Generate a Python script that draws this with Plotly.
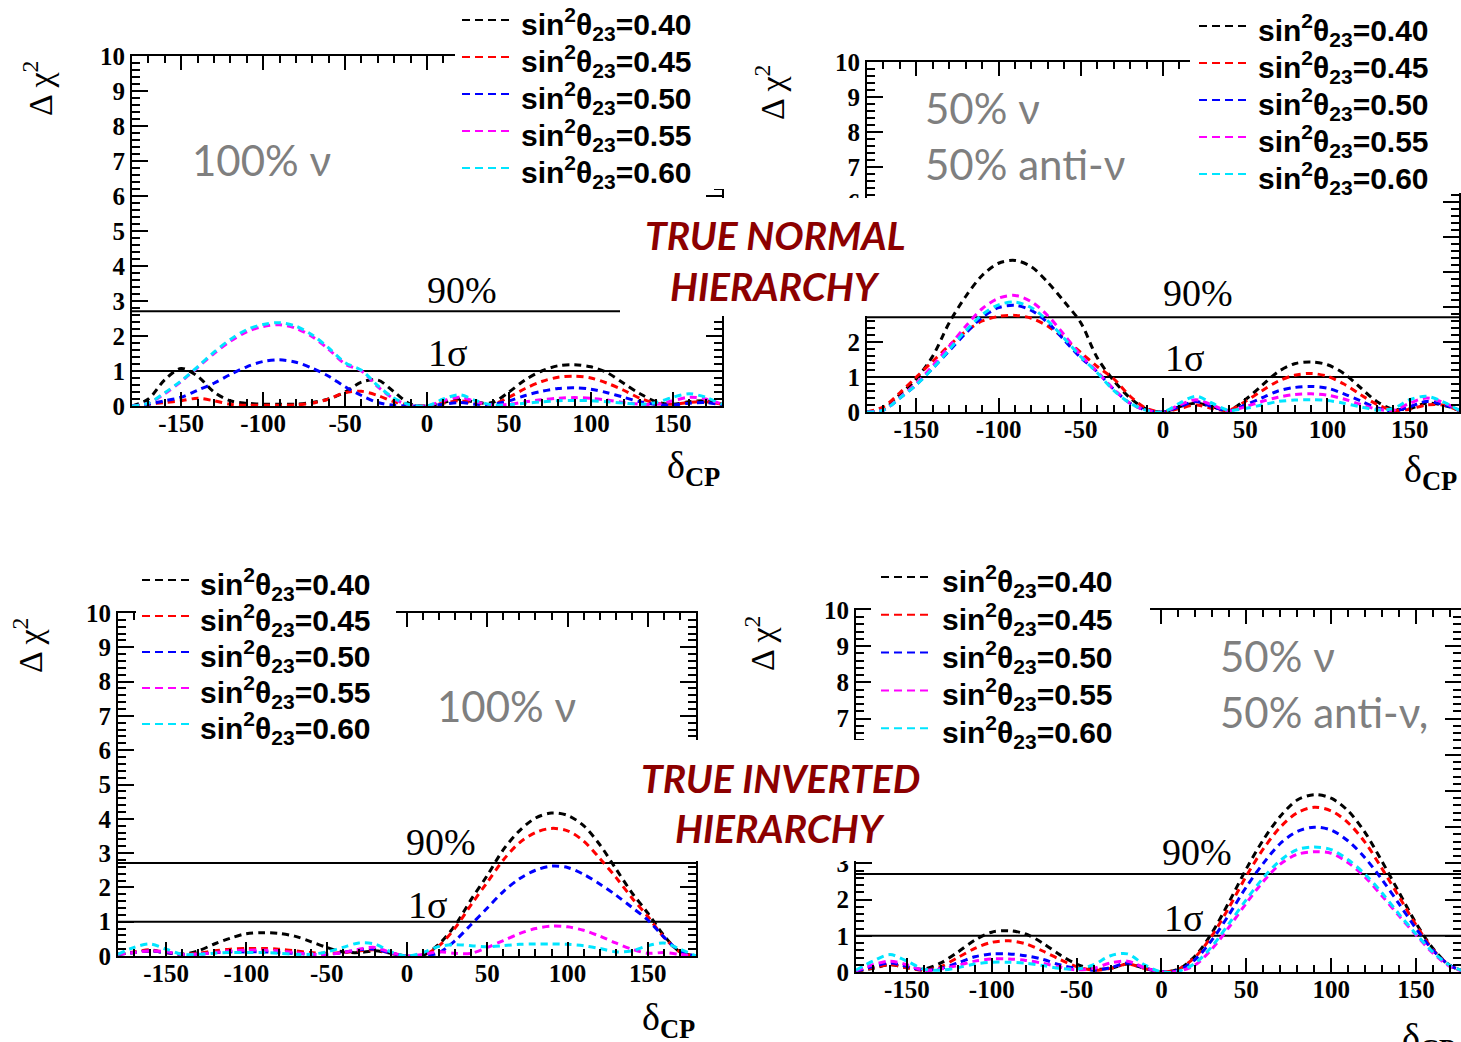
import plotly.graph_objects as go

W, H = 1461, 1042

# ---------------------------------------------------------------- data
delta_cp = [-180, -170, -160, -150, -140, -130, -120, -110, -100, -90, -80, -70,
            -60, -50, -40, -30, -20, -10, 0, 10, 20, 30, 40, 50, 60, 70, 80, 90,
            100, 110, 120, 130, 140, 150, 160, 170, 180]

theta_labels = ["0.40", "0.45", "0.50", "0.55", "0.60"]
curve_colors = ["#000000", "#ff0000", "#0000ff", "#ff00ff", "#00e5ff"]

x_tick_vals = [-150, -100, -50, 0, 50, 100, 150]
x_tick_text = ["-150", "-100", "-50", "0", "50", "100", "150"]
y_tick_vals = [0, 1, 2, 3, 4, 5, 6, 7, 8, 9, 10]
y_tick_text = ["0", "1", "2", "3", "4", "5", "6", "7", "8", "9", "10"]

cl_levels = [2.71, 1.0]
cl_names = ["90%", "1σ"]

# true normal hierarchy, 100% neutrino running
nh_nu_040 = [0.0, 0.2, 0.75, 1.07, 0.85, 0.4, 0.15, 0.08, 0.05, 0.05, 0.05, 0.1,
             0.2, 0.4, 0.68, 0.74, 0.4, 0.05, 0.0, 0.1, 0.2, 0.1, 0.1, 0.4, 0.75, 1.0, 1.15, 1.18,
             1.12, 0.95, 0.65, 0.35, 0.12, 0.05, 0.12, 0.15, 0.05]
nh_nu_045 = [0.0, 0.05, 0.1, 0.15, 0.22, 0.15, 0.05, 0.02, 0.02, 0.02, 0.03, 0.08,
             0.2, 0.38, 0.42, 0.3, 0.12, 0.02, 0.0, 0.08, 0.15, 0.08, 0.05, 0.25, 0.5, 0.7, 0.82, 0.85,
             0.8, 0.65, 0.45, 0.22, 0.08, 0.05, 0.1, 0.12, 0.05]
nh_nu_050 = [0.0, 0.05, 0.15, 0.25, 0.45, 0.65, 0.9, 1.12, 1.27, 1.32, 1.25, 1.08,
             0.85, 0.55, 0.3, 0.1, 0.02, 0.0, 0.0, 0.05, 0.1, 0.05, 0.05, 0.15, 0.3, 0.42, 0.5, 0.52,
             0.48, 0.38, 0.25, 0.12, 0.04, 0.03, 0.08, 0.1, 0.03]
nh_nu_055 = [0.0, 0.08, 0.35, 0.7, 1.1, 1.5, 1.85, 2.12, 2.27, 2.32, 2.22, 1.98,
             1.62, 1.2, 1.0, 0.55, 0.2, 0.02, 0.0, 0.15, 0.25, 0.12, 0.02, 0.05, 0.12, 0.18, 0.22, 0.24,
             0.22, 0.17, 0.1, 0.05, 0.05, 0.15, 0.25, 0.2, 0.05]
nh_nu_060 = [0.0, 0.08, 0.38, 0.72, 1.12, 1.54, 1.9, 2.18, 2.33, 2.38, 2.28, 2.03,
             1.66, 1.24, 1.02, 0.58, 0.22, 0.03, 0.0, 0.2, 0.32, 0.15, 0.03, 0.04, 0.08, 0.12, 0.15, 0.16,
             0.15, 0.12, 0.08, 0.05, 0.1, 0.25, 0.35, 0.25, 0.05]

# true normal hierarchy, 50% neutrino / 50% antineutrino running
nh_mix_040 = [0.0, 0.08, 0.5, 0.95, 1.6, 2.55, 3.3, 3.9, 4.25, 4.33, 4.15, 3.7,
              3.15, 2.55, 1.55, 0.9, 0.4, 0.08, 0.0, 0.15, 0.25, 0.15, 0.05, 0.35, 0.75, 1.15, 1.38, 1.43,
              1.35, 1.1, 0.7, 0.3, 0.08, 0.1, 0.25, 0.2, 0.05]
nh_mix_045 = [0.0, 0.15, 0.55, 1.0, 1.45, 1.9, 2.3, 2.6, 2.73, 2.76, 2.68, 2.45,
              2.1, 1.7, 1.3, 0.95, 0.45, 0.1, 0.0, 0.1, 0.2, 0.1, 0.05, 0.3, 0.6, 0.88, 1.05, 1.1,
              1.02, 0.8, 0.5, 0.22, 0.05, 0.08, 0.2, 0.2, 0.05]
nh_mix_050 = [0.0, 0.05, 0.4, 0.78, 1.25, 1.75, 2.25, 2.7, 2.98, 3.05, 2.9, 2.55,
              2.05, 1.55, 1.15, 0.65, 0.25, 0.05, 0.0, 0.15, 0.3, 0.15, 0.03, 0.2, 0.4, 0.6, 0.7, 0.73,
              0.68, 0.52, 0.32, 0.12, 0.03, 0.15, 0.3, 0.22, 0.05]
nh_mix_055 = [0.0, 0.05, 0.42, 0.82, 1.32, 1.88, 2.45, 2.95, 3.25, 3.33, 3.15, 2.75,
              2.2, 1.62, 1.15, 0.65, 0.25, 0.05, 0.0, 0.2, 0.35, 0.2, 0.03, 0.15, 0.3, 0.42, 0.5, 0.52,
              0.48, 0.37, 0.22, 0.08, 0.05, 0.25, 0.4, 0.28, 0.05]
nh_mix_060 = [0.0, 0.05, 0.4, 0.78, 1.25, 1.78, 2.32, 2.78, 3.06, 3.14, 2.98, 2.6,
              2.1, 1.58, 1.12, 0.62, 0.25, 0.05, 0.0, 0.25, 0.45, 0.25, 0.05, 0.1, 0.2, 0.3, 0.34, 0.35,
              0.33, 0.25, 0.15, 0.06, 0.1, 0.35, 0.45, 0.3, 0.05]

# true inverted hierarchy, 100% neutrino running
ih_nu_040 = [0.05, 0.1, 0.15, 0.1, 0.05, 0.15, 0.35, 0.52, 0.65, 0.68, 0.66, 0.58,
             0.42, 0.25, 0.12, 0.1, 0.15, 0.08, 0.0, 0.02, 0.35, 0.9, 1.65, 2.35, 3.1, 3.65, 4.02, 4.17,
             4.1, 3.8, 3.25, 2.55, 1.85, 1.25, 0.6, 0.12, 0.0]
ih_nu_045 = [0.05, 0.12, 0.18, 0.1, 0.05, 0.08, 0.15, 0.2, 0.22, 0.22, 0.2, 0.15,
             0.1, 0.08, 0.1, 0.15, 0.18, 0.08, 0.0, 0.02, 0.3, 0.82, 1.5, 2.15, 2.8, 3.3, 3.6, 3.72,
             3.65, 3.35, 2.85, 2.3, 1.7, 1.15, 0.55, 0.12, 0.0]
ih_nu_050 = [0.05, 0.1, 0.15, 0.1, 0.05, 0.05, 0.1, 0.12, 0.12, 0.12, 0.1, 0.08,
             0.05, 0.05, 0.1, 0.18, 0.2, 0.08, 0.0, 0.0, 0.1, 0.45, 0.92, 1.4, 1.88, 2.25, 2.5, 2.62,
             2.58, 2.38, 2.1, 1.78, 1.42, 1.05, 0.55, 0.15, 0.0]
ih_nu_055 = [0.05, 0.1, 0.15, 0.12, 0.05, 0.05, 0.1, 0.15, 0.17, 0.17, 0.15, 0.1,
             0.05, 0.05, 0.1, 0.2, 0.25, 0.1, 0.0, 0.05, 0.12, 0.08, 0.08, 0.25, 0.45, 0.65, 0.8, 0.87,
             0.85, 0.75, 0.58, 0.38, 0.2, 0.08, 0.1, 0.05, 0.0]
ih_nu_060 = [0.05, 0.25, 0.35, 0.2, 0.05, 0.05, 0.08, 0.1, 0.1, 0.1, 0.08, 0.05,
             0.05, 0.12, 0.25, 0.38, 0.35, 0.12, 0.0, 0.1, 0.28, 0.33, 0.3, 0.27, 0.3, 0.34, 0.35, 0.35,
             0.34, 0.3, 0.22, 0.12, 0.15, 0.3, 0.38, 0.2, 0.0]

# true inverted hierarchy, 50% neutrino / 50% antineutrino running
ih_mix_040 = [0.02, 0.1, 0.2, 0.12, 0.08, 0.25, 0.55, 0.88, 1.1, 1.14, 1.05, 0.8,
              0.48, 0.22, 0.08, 0.1, 0.22, 0.1, 0.0, 0.08, 0.45, 1.1, 1.95, 2.85, 3.65, 4.3, 4.75, 4.9,
              4.8, 4.45, 3.85, 3.05, 2.2, 1.35, 0.65, 0.18, 0.0]
ih_mix_045 = [0.02, 0.12, 0.2, 0.12, 0.05, 0.15, 0.4, 0.65, 0.82, 0.86, 0.78, 0.58,
              0.35, 0.15, 0.05, 0.1, 0.22, 0.1, 0.0, 0.08, 0.42, 1.02, 1.8, 2.65, 3.4, 4.0, 4.4, 4.55,
              4.45, 4.12, 3.58, 2.85, 2.08, 1.3, 0.62, 0.18, 0.0]
ih_mix_050 = [0.02, 0.15, 0.25, 0.15, 0.05, 0.1, 0.25, 0.42, 0.5, 0.5, 0.45, 0.35,
              0.2, 0.1, 0.05, 0.12, 0.25, 0.12, 0.0, 0.05, 0.35, 0.9, 1.6, 2.35, 3.0, 3.55, 3.88, 4.0,
              3.92, 3.62, 3.15, 2.55, 1.88, 1.2, 0.6, 0.18, 0.0]
ih_mix_055 = [0.03, 0.2, 0.3, 0.2, 0.05, 0.08, 0.18, 0.3, 0.36, 0.36, 0.32, 0.24,
              0.14, 0.06, 0.1, 0.25, 0.3, 0.12, 0.0, 0.02, 0.2, 0.65, 1.25, 1.9, 2.5, 2.98, 3.25, 3.32,
              3.28, 3.02, 2.62, 2.1, 1.55, 1.02, 0.52, 0.15, 0.0]
ih_mix_060 = [0.05, 0.3, 0.48, 0.3, 0.08, 0.05, 0.12, 0.22, 0.27, 0.27, 0.24, 0.18,
              0.1, 0.08, 0.2, 0.45, 0.5, 0.2, 0.0, 0.02, 0.25, 0.72, 1.35, 2.0, 2.6, 3.08, 3.38, 3.45,
              3.38, 3.1, 2.7, 2.18, 1.6, 1.05, 0.55, 0.18, 0.0]


# ---------------------------------------------------------------- helpers
def fx(px):
    return px / W


def fy(py):
    return 1 - py / H


SERIF = "Liberation Serif"
SANS = "Liberation Sans"
NOTE = "Lato"
GREY = "#7f7f7f"
DARKRED = "#8c0000"


def note(text, px, py, family, size, color, xanchor="center", yanchor="middle",
         angle=0, weight="normal", style="normal"):
    return dict(text=text, x=fx(px), y=fy(py), xref="paper", yref="paper",
                showarrow=False, xanchor=xanchor, yanchor=yanchor, textangle=angle,
                font=dict(family=family, size=size, color=color, weight=weight, style=style))


# each panel: plot frame in pixels (left, right, bottom, top), x range, curves
panels = [
    dict(frame=(132, 722, 406, 56), xr=(-180, 180),
         curves=[nh_nu_040, nh_nu_045, nh_nu_050, nh_nu_055, nh_nu_060],
         legend=(462, 512, 519, 20, 37),
         ylabel=(38, 88), xlabel=(693, 468),
         cl_text=[(462, 290), (447, 353)],
         notes=[("100% ν", 190, 160)]),
    dict(frame=(867, 1459, 412, 62), xr=(-180, 180),
         curves=[nh_mix_040, nh_mix_045, nh_mix_050, nh_mix_055, nh_mix_060],
         legend=(1199, 1250, 1256, 26, 37),
         ylabel=(770, 92), xlabel=(1430, 472),
         cl_text=[(1198, 293), (1184, 358)],
         notes=[("50% ν", 923, 108), ("50% anti-ν", 923, 164)]),
    dict(frame=(118, 696, 956, 613), xr=(-180, 180),
         curves=[ih_nu_040, ih_nu_045, ih_nu_050, ih_nu_055, ih_nu_060],
         legend=(142, 190, 198, 580, 36),
         ylabel=(28, 645), xlabel=(668, 1020),
         cl_text=[(441, 842), (427, 905)],
         notes=[("100% ν", 435, 706)]),
    dict(frame=(856, 1461, 972, 610), xr=(-180, 176.5),
         curves=[ih_mix_040, ih_mix_045, ih_mix_050, ih_mix_055, ih_mix_060],
         legend=(881, 932, 940, 577, 37.8),
         ylabel=(760, 643), xlabel=(1428, 1040),
         cl_text=[(1197, 852), (1183, 918)],
         notes=[("50% ν", 1218, 656), ("50% anti-ν,", 1218, 712)]),
]

# white panels laid over the frames (pixel boxes: x0, y0, x1, y1)
cover_boxes = [
    (455, 0, 735, 189),
    (620, 198, 927, 316),
    (1190, 0, W, 193),
    (136, 550, 396, 742),
    (615, 740, 932, 861),
    (871, 550, 1150, 745),
]

fig = go.Figure()
layout = dict(
    width=W, height=H, autosize=False,
    margin=dict(l=0, r=0, t=0, b=0, pad=0, autoexpand=False),
    paper_bgcolor="white", plot_bgcolor="white", showlegend=False,
)
shapes = []
annotations = []

tick_font = dict(family=SERIF, size=25, color="black", weight="bold")

for i, p in enumerate(panels, start=1):
    sfx = "" if i == 1 else str(i)
    left, right, bottom, top = p["frame"]
    layout["xaxis" + sfx] = dict(
        domain=[fx(left), fx(right)], range=list(p["xr"]), anchor="y" + sfx,
        showgrid=False, zeroline=False, showline=True, linecolor="black", linewidth=2,
        mirror="ticks", ticks="inside", ticklen=14, tickwidth=2, tickcolor="black",
        tickmode="array", tickvals=x_tick_vals, ticktext=x_tick_text, tickfont=tick_font,
        ticklabelstandoff=-6,
        minor=dict(tickmode="linear", tick0=0, dtick=10, ticks="inside",
                   ticklen=7, tickwidth=1.5, tickcolor="black"),
    )
    layout["yaxis" + sfx] = dict(
        domain=[fy(bottom), fy(top)], range=[0, 10], anchor="x" + sfx,
        showgrid=False, zeroline=False, showline=True, linecolor="black", linewidth=2,
        mirror="ticks", ticks="inside", ticklen=16, tickwidth=2, tickcolor="black",
        tickmode="array", tickvals=y_tick_vals, ticktext=y_tick_text, tickfont=tick_font,
        minor=dict(tickmode="linear", tick0=0, dtick=0.2, ticks="inside",
                   ticklen=8, tickwidth=1.5, tickcolor="black"),
    )

    # confidence-level reference lines
    for lvl in cl_levels:
        fig.add_trace(go.Scatter(
            x=[delta_cp[0], delta_cp[-1]], y=[lvl, lvl], mode="lines",
            line=dict(color="black", width=2), xaxis="x" + sfx, yaxis="y" + sfx,
            hoverinfo="skip"))

    # Δχ² curves for each true sin²θ23
    for vals, col, lab in zip(p["curves"], curve_colors, theta_labels):
        fig.add_trace(go.Scatter(
            x=delta_cp, y=vals, mode="lines", name="sin²θ23=" + lab,
            line=dict(color=col, width=3, dash="7px,5px", shape="spline", smoothing=0.9),
            xaxis="x" + sfx, yaxis="y" + sfx))

    # axis titles
    annotations.append(note("Δ χ<sup>2</sup>", *p["ylabel"], SERIF, 34, "black", angle=-90))
    annotations.append(note("δ<sub><b>CP</b></sub>", *p["xlabel"], SERIF, 38, "black"))

    # labels of the reference lines
    for name, (tx, ty) in zip(cl_names, p["cl_text"]):
        annotations.append(note(name, tx, ty, SERIF, 38, "black"))

    # beam configuration notes
    for txt, tx, ty in p["notes"]:
        annotations.append(note(txt, tx, ty, NOTE, 42, GREY, xanchor="left"))

# white covers
for x0, y0, x1, y1 in cover_boxes:
    shapes.append(dict(type="rect", xref="paper", yref="paper", layer="above",
                       x0=fx(x0), x1=fx(x1), y0=fy(y1), y1=fy(y0),
                       fillcolor="white", line=dict(width=0)))

# hand-placed legends
for p in panels:
    lx0, lx1, tx, ty0, step = p["legend"]
    for k, (col, lab) in enumerate(zip(curve_colors, theta_labels)):
        yy = ty0 + k * step
        shapes.append(dict(type="line", xref="paper", yref="paper", layer="above",
                           x0=fx(lx0), x1=fx(lx1), y0=fy(yy), y1=fy(yy),
                           line=dict(color=col, width=2, dash="8px,5px")))
        annotations.append(note("sin<sup>2</sup>θ<sub>23</sub>=" + lab, tx, yy + 4,
                                SANS, 30, "black", xanchor="left", weight="bold"))

# hierarchy headings
for txt, cx, cy in [("TRUE NORMAL", 775, 235), ("HIERARCHY", 775, 286),
                    ("TRUE INVERTED", 780, 778), ("HIERARCHY", 780, 828)]:
    annotations.append(note(txt, cx, cy, NOTE, 39, DARKRED, weight="bold", style="italic"))

layout["shapes"] = shapes
layout["annotations"] = annotations
fig.update_layout(**layout)
fig.write_html("out.html")
